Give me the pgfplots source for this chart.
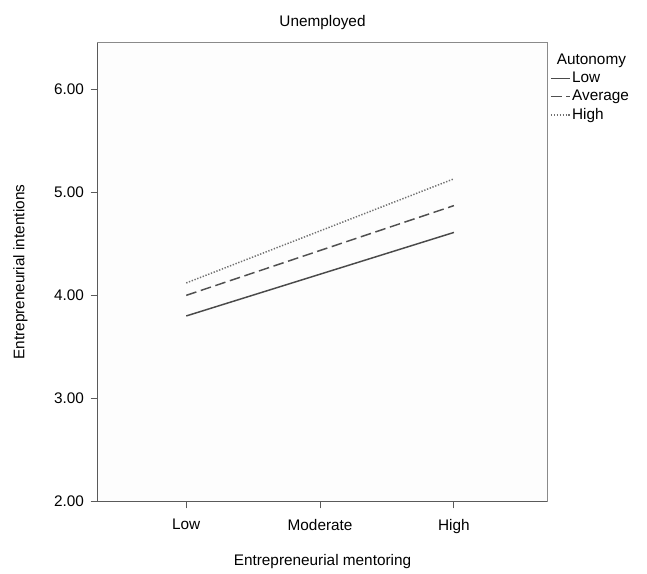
\documentclass[border=0pt]{standalone}
\usepackage{pgfplots}
\pgfplotsset{compat=1.18}
\usepackage{fontspec}
\setmainfont{Liberation Sans}
\definecolor{bg}{HTML}{FDFDFD}
\definecolor{frm}{HTML}{5A5A5A}
\definecolor{frm2}{HTML}{8A8A8A}
\definecolor{lnlow}{HTML}{4A4A4A}
\definecolor{lnavg}{HTML}{505050}
\definecolor{lnhigh}{HTML}{707070}
\begin{document}
\fontsize{11.5}{13.8}\selectfont
\begin{tikzpicture}
\fill[white] (-73pt,-52pt) rectangle (412pt,376pt);
\begin{axis}[
  scale only axis,
  clip=false,
  width=337.5pt, height=344pt,
  xmin=-0.664, xmax=2.70,
  ymin=2, ymax=6.45,
  xtick={0,1,2}, xticklabels={Low,Moderate,High},
  ytick={2,3,4,5,6},
  yticklabel={\pgfmathprintnumber[fixed,fixed zerofill,precision=2]{\tick}},
  /pgf/number format/assume math mode=true,
  tick align=outside, tick pos=left,
  major tick length=5pt,
  axis background/.style={fill=bg},
  axis line style={frm, line width=0.8pt},
  tick style={frm, line width=0.8pt},
  title={Unemployed},
  title style={yshift=0pt},
  xlabel={Entrepreneurial mentoring},
  ylabel={Entrepreneurial intentions},
  xticklabel style={yshift=-4pt},
  yticklabel style={xshift=-1pt},
  xlabel style={yshift=-8pt},
  ylabel style={yshift=12pt},
  ticklabel style={font=\fontsize{11.5}{13.8}\selectfont},
  label style={font=\fontsize{11.5}{13.8}\selectfont},
  legend style={at={(rel axis cs:1.002,0.94)}, anchor=north west, draw=none, fill=none,
    font=\fontsize{11.5}{11}\selectfont, row sep=1.5pt, inner xsep=1pt, inner ysep=0pt,
    nodes={inner sep=1.2pt}},
  legend cell align=left,
  legend image code/.code={\draw[#1] (0cm,0cm) -- (0.5cm,0cm);},
]
\draw[frm2, line width=0.8pt] (rel axis cs:0,1) -- (rel axis cs:1,1) -- (rel axis cs:1,0);
\addplot[lnlow, line width=1.1pt] coordinates {(0,3.80) (2,4.61)};
\addlegendentry{Low}
\addplot[lnavg, line width=1.1pt, dash pattern=on 8pt off 3.5pt] coordinates {(0,4.00) (2,4.87)};
\addlegendentry{Average}
\addplot[lnhigh, line width=1.1pt, dash pattern=on 1pt off 1.2pt] coordinates {(0,4.12) (2,5.13)};
\addlegendentry{High}
\node[anchor=north west, inner sep=0pt] at (rel axis cs:1.02,0.975) {Autonomy};
\end{axis}
\end{tikzpicture}
\end{document}
